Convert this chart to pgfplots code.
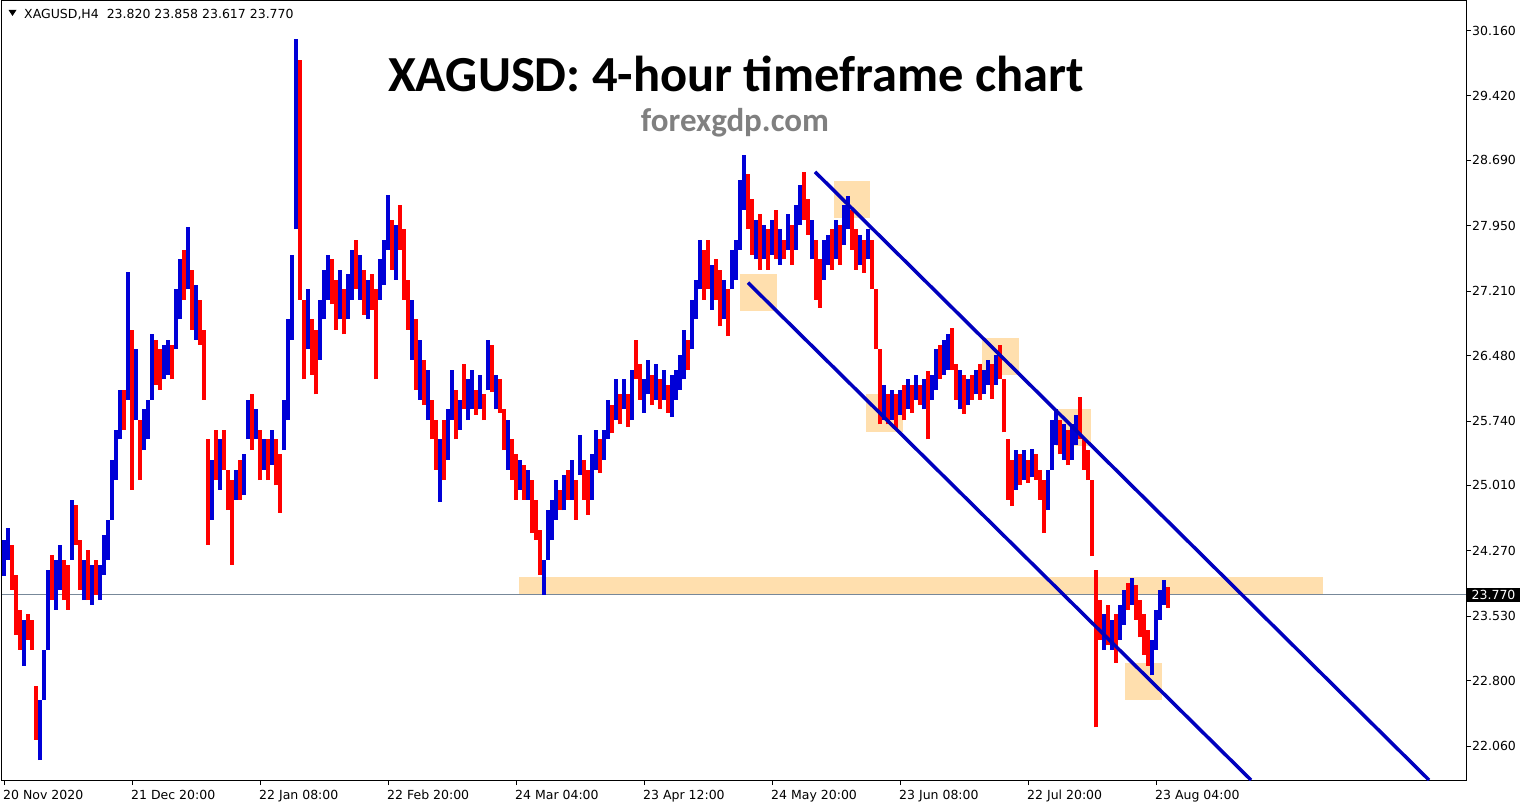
\documentclass[border=0pt]{standalone}
\usepackage{fontspec}
\setmainfont{DejaVu Sans}
\newfontfamily\titlefont{Carlito}
\usepackage{pgfplots}
\usepackage{pgfplotstable}
\pgfplotsset{compat=1.18}

\definecolor{barblue}{RGB}{0,0,215}
\definecolor{barred}{RGB}{255,0,0}
\definecolor{chanblue}{RGB}{0,0,190}
\definecolor{zone}{RGB}{255,223,174}
\definecolor{priceline}{RGB}{119,136,153}
\definecolor{wmgray}{RGB}{128,128,128}

% H4 bars: x = bar position, l = low, h = high, c = 1 up (blue) / 0 down (red)
\pgfplotstableread{
x l h c
4 23.99 24.39 1
8 24.17 24.53 1
12 23.83 24.34 0
16 23.32 24.00 0
20 23.15 23.60 0
24 22.97 23.49 1
28 23.26 23.55 0
32 23.15 23.49 0
36 22.13 22.74 0
40 21.90 22.58 1
44 22.58 23.15 1
48 23.15 24.05 1
52 23.71 24.22 0
56 23.60 24.17 1
60 23.83 24.34 1
64 23.71 24.17 0
68 23.60 24.11 0
72 24.17 24.85 1
76 24.34 24.79 0
80 23.83 24.39 0
84 23.71 24.17 1
88 23.71 24.28 0
92 23.66 24.11 1
96 23.77 24.17 0
100 23.71 24.11 1
104 24.00 24.45 1
108 24.17 24.62 1
112 24.62 25.30 1
116 25.07 25.64 1
120 25.53 26.09 1
124 25.64 26.09 0
128 25.98 27.43 1
132 24.96 26.77 0
136 25.75 26.55 1
140 25.07 25.75 0
144 25.41 25.87 1
148 25.53 25.98 1
152 25.98 26.72 1
156 26.15 26.66 0
160 26.09 26.55 0
164 26.21 26.60 1
168 26.26 26.66 1
172 26.21 26.60 0
176 26.55 27.23 1
180 26.89 27.57 1
184 27.11 27.68 0
188 27.23 27.93 1
192 26.77 27.45 0
196 26.66 27.28 1
200 26.60 27.11 0
204 25.98 26.77 0
208 24.34 25.53 0
212 24.62 25.30 1
216 25.07 25.64 0
220 24.96 25.53 1
224 25.19 25.64 0
228 24.73 25.19 0
232 24.11 25.07 0
236 24.85 25.19 1
240 24.85 25.30 0
244 24.90 25.36 1
248 25.53 25.98 1
252 25.41 26.04 0
256 25.53 25.87 1
260 25.07 25.64 0
264 25.19 25.53 1
268 25.07 25.53 0
272 25.24 25.64 1
276 25.01 25.53 0
280 24.70 25.36 0
284 25.41 25.98 1
288 25.75 26.89 1
292 26.66 27.62 1
296 27.91 30.06 1
300 27.11 29.83 0
304 26.21 27.11 0
308 26.55 27.23 1
312 26.26 26.89 0
316 26.04 26.77 0
320 26.43 27.11 1
324 26.89 27.45 1
328 27.11 27.62 1
332 27.06 27.57 0
336 26.77 27.34 0
340 26.89 27.45 1
344 26.72 27.23 0
348 26.89 27.40 1
352 27.11 27.68 1
356 27.23 27.79 0
360 27.11 27.62 1
364 26.94 27.45 0
368 26.89 27.34 1
372 27.00 27.40 0
376 26.21 27.23 0
380 27.11 27.57 1
384 27.28 27.79 1
388 27.68 28.30 1
392 27.45 28.02 0
396 27.34 27.96 1
400 27.68 28.19 0
404 27.11 27.91 0
408 26.77 27.34 0
412 26.43 27.11 1
416 26.09 26.89 0
420 25.98 26.66 1
424 25.92 26.43 0
428 25.75 26.32 1
432 25.53 25.98 0
436 25.19 25.75 0
440 24.82 25.53 1
444 25.07 25.75 0
448 25.30 25.87 1
452 25.75 26.32 1
456 25.53 26.09 0
460 25.64 25.98 1
464 25.87 26.38 0
468 25.75 26.21 1
472 25.87 26.32 1
476 25.81 26.09 0
480 25.87 26.26 1
484 25.75 26.04 0
488 26.09 26.66 1
492 26.07 26.60 0
496 25.87 26.26 1
500 25.83 26.21 0
504 25.41 25.87 0
508 25.19 25.75 1
512 25.07 25.53 0
516 24.85 25.36 0
520 24.96 25.30 1
524 24.85 25.24 0
528 24.85 25.19 1
532 24.47 25.07 0
536 24.39 24.85 0
540 24.00 24.51 0
544 23.77 24.17 1
548 24.17 24.73 1
552 24.39 24.85 1
556 24.62 25.07 1
560 24.73 24.96 0
564 24.73 25.13 1
568 24.85 25.19 0
572 24.85 25.30 1
576 24.62 25.07 0
580 25.13 25.58 1
584 24.85 25.30 0
588 24.68 25.19 0
592 24.85 25.36 1
596 25.19 25.64 1
600 25.15 25.53 0
604 25.30 25.64 1
608 25.53 25.98 1
612 25.60 25.92 0
616 25.75 26.21 1
620 25.70 26.04 0
624 25.87 26.21 1
628 25.67 26.04 0
632 25.75 26.32 1
636 26.21 26.66 0
640 25.98 26.38 0
644 25.83 26.21 1
648 26.04 26.43 1
652 25.92 26.26 0
656 25.98 26.38 1
660 25.87 26.21 0
664 25.98 26.32 1
668 25.83 26.15 0
672 25.79 26.26 1
676 25.98 26.32 1
680 26.09 26.49 1
684 26.21 26.77 1
688 26.32 26.66 0
692 26.55 27.11 1
696 26.89 27.34 1
700 27.23 27.79 1
704 27.11 27.68 0
708 27.23 27.79 0
712 27.00 27.51 1
716 27.11 27.57 0
720 26.81 27.45 0
724 26.89 27.34 1
728 26.70 27.23 0
732 27.23 27.68 1
736 27.34 27.79 1
740 27.68 28.47 1
744 28.13 28.75 1
748 27.91 28.53 0
752 27.62 28.25 0
756 27.57 28.02 1
760 27.45 28.08 0
764 27.57 27.96 1
768 27.45 27.91 0
772 27.62 28.02 1
776 27.57 28.13 0
780 27.51 27.91 1
784 27.57 27.79 0
788 27.68 28.08 1
792 27.51 27.96 0
796 27.68 28.19 1
800 27.96 28.41 1
804 28.02 28.56 0
808 27.85 28.25 0
812 27.57 28.02 1
816 27.11 27.79 0
820 27.02 27.57 0
824 27.34 27.79 1
828 27.51 27.85 1
832 27.45 27.91 0
836 27.57 28.02 1
840 27.51 27.96 0
844 27.73 28.19 1
848 27.91 28.29 1
852 27.68 28.13 0
856 27.45 27.91 0
860 27.51 27.85 1
864 27.42 27.79 0
868 27.57 27.91 1
872 27.23 27.79 0
876 26.55 27.23 0
880 25.70 26.55 0
884 25.75 26.15 1
888 25.70 26.04 0
892 25.75 26.09 1
896 25.64 26.04 0
900 25.81 26.09 1
904 25.75 26.15 0
908 25.87 26.21 1
912 25.83 26.15 0
916 25.98 26.26 1
920 25.92 26.15 0
924 25.87 26.21 1
928 25.53 26.30 0
932 25.98 26.26 1
936 26.09 26.55 1
940 26.21 26.60 0
944 26.26 26.66 1
948 26.32 26.72 1
952 26.32 26.79 0
956 25.98 26.38 0
960 25.87 26.32 1
964 25.82 26.26 0
968 25.92 26.21 1
972 25.98 26.26 0
976 26.04 26.32 1
980 25.98 26.38 0
984 26.04 26.32 1
988 26.15 26.43 1
992 25.99 26.38 0
996 26.15 26.49 1
1000 26.21 26.60 0
1004 25.61 26.21 0
1008 24.85 25.53 0
1012 24.78 25.30 0
1016 24.96 25.41 1
1020 25.01 25.36 0
1024 25.07 25.41 1
1028 25.04 25.30 0
1032 25.10 25.42 1
1036 25.07 25.36 0
1040 24.85 25.19 0
1044 24.47 25.07 0
1048 24.73 25.19 1
1052 25.19 25.75 1
1056 25.47 25.87 1
1060 25.36 25.75 0
1064 25.30 25.70 1
1068 25.24 25.64 0
1072 25.30 25.70 1
1076 25.47 25.81 1
1080 25.53 26.01 0
1084 25.19 25.53 0
1088 25.07 25.41 0
1092 24.21 25.07 0
1096 22.27 24.05 0
1100 23.26 23.71 0
1104 23.15 23.55 1
1108 23.20 23.66 0
1112 23.15 23.49 1
1116 23.00 23.55 0
1120 23.26 23.66 1
1124 23.43 23.83 1
1128 23.60 23.91 0
1132 23.66 23.96 1
1136 23.49 23.88 0
1140 23.29 23.71 0
1144 23.09 23.55 0
1148 22.97 23.37 0
1152 22.86 23.26 1
1156 23.15 23.60 1
1160 23.49 23.83 1
1164 23.66 23.94 1
1168 23.62 23.86 0
}\bars

\begin{document}
\begin{tikzpicture}
\path[use as bounding box, fill=white] (0,0) rectangle (1529pt,807pt);
\begin{axis}[
    at={(2pt,27pt)}, anchor=south west,
    width=1464pt, height=779pt, scale only axis,
    xmin=2, xmax=1466, ymin=21.675, ymax=30.494,
    axis line style={black, line width=1pt},
    tick align=outside, major tick length=5pt,
    tick style={black, line width=0.8pt},
    xtick pos=left, ytick pos=right,
    xtick={4,132,260,388,516,644,772,900,1028,1156},
    xticklabels={20 Nov 2020,21 Dec 20:00,22 Jan 08:00,22 Feb 20:00,24 Mar 04:00,23 Apr 12:00,24 May 20:00,23 Jun 08:00,22 Jul 20:00,23 Aug 04:00},
    ytick={30.160,29.420,28.690,27.950,27.210,26.480,25.740,25.010,24.270,23.530,22.800,22.060},
    yticklabels={30.160,29.420,28.690,27.950,27.210,26.480,25.740,25.010,24.270,23.530,22.800,22.060},
    xticklabel style={anchor=north west, inner sep=0pt, xshift=-1pt, yshift=-5pt, font=\fontsize{12.5}{14}\selectfont},
    yticklabel style={anchor=west, inner sep=0pt, xshift=1pt, font=\fontsize{12.5}{14}\selectfont},
]
% zones
\addplot[fill=zone, draw=none, forget plot] coordinates {(519,23.78) (1323,23.78) (1323,23.97) (519,23.97)};
\addplot[fill=zone, draw=none, forget plot] coordinates {(834,28.04) (870,28.04) (870,28.46) (834,28.46)};
\addplot[fill=zone, draw=none, forget plot] coordinates {(740,26.99) (777,26.99) (777,27.40) (740,27.40)};
\addplot[fill=zone, draw=none, forget plot] coordinates {(982,26.26) (1019,26.26) (1019,26.68) (982,26.68)};
\addplot[fill=zone, draw=none, forget plot] coordinates {(866,25.62) (903,25.62) (903,26.05) (866,26.05)};
\addplot[fill=zone, draw=none, forget plot] coordinates {(1056,25.46) (1091,25.46) (1091,25.87) (1056,25.87)};
\addplot[fill=zone, draw=none, forget plot] coordinates {(1125,22.58) (1162,22.58) (1162,23.00) (1125,23.00)};
% current price line
\addplot[priceline, line width=1.1pt, forget plot] coordinates {(2,23.77) (1466,23.77)};
% bars: low to high, coloured by direction
\addplot[barblue, line width=3.2pt, forget plot, quiver={u=0, v=\thisrow{c}*(\thisrow{h}-\thisrow{l})}]
  table[x=x, y=l] {\bars};
\addplot[barred, line width=3.2pt, forget plot, quiver={u=0, v=(1-\thisrow{c})*(\thisrow{h}-\thisrow{l})}]
  table[x=x, y=l] {\bars};
% channel
\addplot[chanblue, line width=3.5pt, forget plot] coordinates {(815,28.56) (1429,21.675)};
\addplot[chanblue, line width=3.5pt, forget plot] coordinates {(748,27.305) (1251,21.675)};
\coordinate (pl) at (axis cs:1466,23.77);
\end{axis}
\node[fill=black, text=white, anchor=west, inner xsep=5pt, inner ysep=0pt, minimum height=14pt,
  font=\fontsize{12.5}{14}\selectfont] at ([xshift=0.5pt]pl) {23.770};
\fill[black] (8.5pt,797pt) -- (16.5pt,797pt) -- (12.5pt,791pt) -- cycle;
\node[anchor=base west, inner sep=0pt, font=\fontsize{12.5}{14}\selectfont] at (24pt,788pt) {XAGUSD,H4\ \ 23.820 23.858 23.617 23.770};
\node[anchor=base, inner sep=0pt, font=\titlefont\bfseries\fontsize{50.5}{56}\selectfont] at (736pt,715pt) {XAGUSD: 4-hour timeframe chart};
\node[anchor=base, inner sep=0pt, text=wmgray, font=\titlefont\bfseries\fontsize{33}{38}\selectfont] at (735pt,675pt) {forexgdp.com};
\end{tikzpicture}
\end{document}
